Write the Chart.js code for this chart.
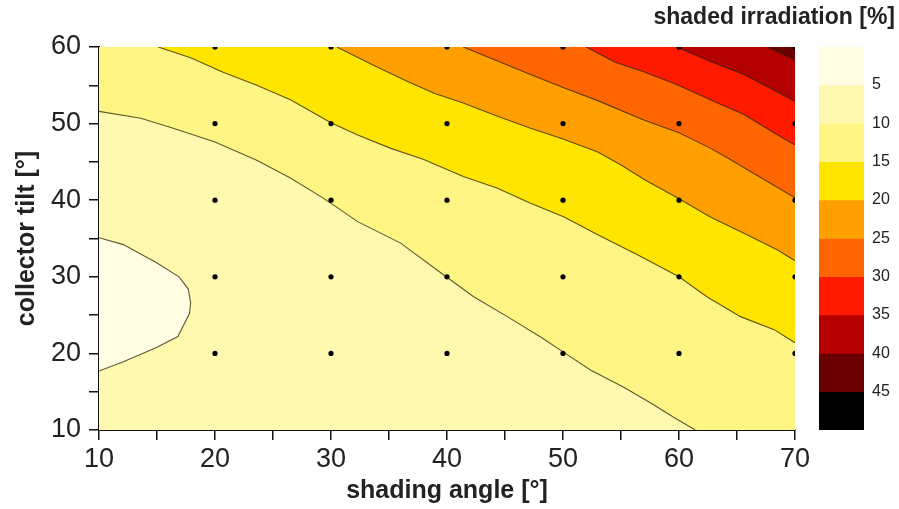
<!DOCTYPE html>
<html>
<head>
<meta charset="utf-8">
<script src="https://cdn.jsdelivr.net/npm/chart.js@4.4.1/dist/chart.umd.min.js"></script>
<style>
  body { margin: 0; background: #fff; }
  #wrap { position: relative; width: 899px; height: 509px; }
  #plot { position: absolute; left: 0; top: 0; }
  #scaleBar { position: absolute; left: 640px; top: 0; }
</style>
</head>
<body>
<div id="wrap">
  <canvas id="plot" width="899" height="509"></canvas>
  <canvas id="scaleBar" width="259" height="509"></canvas>
</div>
<script>
// contour levels of shaded irradiation [%] and their fill colours
const levels = [0, 5, 10, 15, 20, 25, 30, 35, 40, 45, 50];
const bandColors = ['#fffde2', '#fff9b0', '#fff585', '#ffe500', '#ffa000',
                    '#ff6600', '#ff1a00', '#b40000', '#6a0000', '#000000'];

// contour lines, [shading angle, collector tilt]
const contour5 = [[10, 35.1], [12.1, 34.2], [15.0, 31.8], [16.9, 30.0], [17.7, 28.4],
  [17.9, 26.6], [17.8, 25.2], [16.8, 22.2], [15.0, 20.8], [12.1, 18.9], [10, 17.7]];
const contour10 = [[10, 51.6], [13.6, 50.7], [16.4, 49.4], [20.0, 47.6], [23.6, 45.2],
  [26.5, 42.9], [29.3, 40.3], [32.3, 37.2], [36.0, 34.4], [39.4, 30.6], [42.3, 27.4],
  [45.2, 24.8], [48.1, 22.1], [50.1, 20.1], [52.4, 17.8], [55.2, 15.6], [57.6, 13.5],
  [59.5, 11.7], [61.4, 10]];
const contour15 = [[15.1, 60], [17.9, 58.6], [20.7, 56.7], [23.6, 55.0], [26.5, 53.1],
  [30.0, 50.1], [32.3, 48.5], [35.1, 46.8], [38.0, 45.3], [41.4, 43.1], [44.3, 41.6],
  [47.2, 39.6], [50.1, 37.8], [53.0, 35.5], [56.5, 32.8], [60.0, 30.0], [62.4, 27.4],
  [65.3, 24.8], [68.2, 23.1], [70, 21.4]];
const contour20 = [[30.5, 60], [33.7, 57.6], [36.6, 55.5], [39.0, 53.9], [41.4, 52.7],
  [44.3, 51.0], [47.2, 49.4], [50.0, 48.0], [53.0, 46.3], [55.0, 44.6], [57.0, 42.7],
  [60.0, 40.2], [62.7, 37.8], [65.6, 35.7], [68.5, 33.5], [70, 32.1]];
const contour25 = [[41.4, 60], [44.3, 58.2], [47.2, 56.4], [50.0, 54.7], [53.0, 53.0],
  [56.9, 50.5], [60.0, 48.8], [62.7, 46.8], [64.2, 45.5], [67.0, 43.0], [70, 40.3]];
const contour30 = [[52.0, 60], [54.5, 58.0], [56.9, 56.8], [59.8, 55.1], [62.7, 53.1],
  [65.6, 51.2], [68.4, 48.6], [70, 47.2]];
const contour35 = [[59.8, 60], [62.7, 58.1], [65.6, 56.4], [68.4, 54.2], [70, 52.9]];
const contour40 = [[67.6, 60], [68.8, 59.2], [70, 58.3]];

// measured grid points
const gridX = [20, 30, 40, 50, 60, 70];
const gridY = [20, 30, 40, 50, 60];

const xRange = [10, 70];
const yRange = [10, 60];

const FONT = "'Liberation Sans', Arial, sans-serif";
Chart.defaults.font.family = FONT;

const contours = [contour5, contour10, contour15, contour20, contour25, contour30, contour35, contour40];
const toXY = p => ({ x: p[0], y: p[1] });

// position of a border point along the frame, going down the left edge,
// right along the bottom, up the right edge and back along the top
const W = xRange[1] - xRange[0], H = yRange[1] - yRange[0];
function perim([x, y]) {
  if (x <= xRange[0]) return yRange[1] - y;
  if (y <= yRange[0]) return H + (x - xRange[0]);
  if (x >= xRange[1]) return H + W + (y - yRange[0]);
  return 2 * H + W + (xRange[1] - x);
}
const corners = [[xRange[0], yRange[0]], [xRange[1], yRange[0]], [xRange[1], yRange[1]], [xRange[0], yRange[1]]];
const cornerT = [H, H + W, 2 * H + W, 2 * H + 2 * W];

// region above a contour line = the line closed along the frame
function closeRegion(line) {
  const tEnd = perim(line[line.length - 1]);
  let tStart = perim(line[0]);
  if (tStart <= tEnd) tStart += 2 * (W + H);
  const pts = line.slice();
  for (let lap = 0; lap < 2; lap++) {
    cornerT.forEach((t, i) => {
      const tt = t + lap * 2 * (W + H);
      if (tt > tEnd && tt < tStart) pts.push(corners[i]);
    });
  }
  return pts;
}

const datasets = [];
datasets.push({
  data: corners.map(toXY), fill: 'shape', backgroundColor: bandColors[0],
  borderWidth: 0, pointRadius: 0, order: 100
});
contours.forEach((c, i) => {
  datasets.push({
    data: closeRegion(c).map(toXY), fill: 'shape', backgroundColor: bandColors[i + 1],
    borderWidth: 0, pointRadius: 0, order: 99 - i
  });
});
contours.forEach(c => {
  datasets.push({
    data: c.map(toXY), fill: false, borderColor: 'rgba(45,35,0,0.75)',
    borderWidth: 1.1, pointRadius: 0, tension: 0, order: 10
  });
});
const dots = [];
gridY.forEach(y => gridX.forEach(x => dots.push({ x, y })));
datasets.push({
  data: dots, showLine: false, pointRadius: 2.6, pointBackgroundColor: '#000',
  pointBorderWidth: 0, order: 0
});

const tickCb = v => (v % 10 === 0 ? v : '');

new Chart(document.getElementById('plot'), {
  type: 'line',
  data: { datasets },
  options: {
    responsive: false,
    animation: false,
    events: [],
    layout: { padding: { left: 0, right: 104, top: 47, bottom: 0 } },
    plugins: { legend: { display: false }, tooltip: { enabled: false } },
    scales: {
      x: {
        type: 'linear', min: xRange[0], max: xRange[1],
        ticks: { stepSize: 5, autoSkip: false, maxRotation: 0, color: '#222',
                 font: { size: 27 }, padding: 3, callback: tickCb },
        grid: { drawOnChartArea: false, tickLength: 10, color: '#111', lineWidth: 1.5 },
        border: { color: '#111', width: 2 },
        title: { display: true, text: 'shading angle [°]', color: '#222',
                 font: { size: 25, weight: 'bold' }, padding: { top: 0, bottom: 3 } },
        afterFit: s => { s.height = 79; }
      },
      y: {
        type: 'linear', min: yRange[0], max: yRange[1],
        ticks: { stepSize: 5, autoSkip: false, color: '#222',
                 font: { size: 27 }, padding: 8, callback: tickCb },
        grid: { drawOnChartArea: false, tickLength: 10, color: '#111', lineWidth: 1.5 },
        border: { color: '#111', width: 2 },
        title: { display: true, text: 'collector tilt [°]', color: '#222',
                 font: { size: 25, weight: 'bold' }, padding: { top: 12, bottom: 0 } },
        afterFit: s => { s.width = 99; }
      }
    }
  }
});

// colour scale
new Chart(document.getElementById('scaleBar'), {
  type: 'bar',
  data: {
    labels: [''],
    datasets: bandColors.map((c, i) => ({
      data: [levels[i + 1] - levels[i]], backgroundColor: c, borderWidth: 0,
      barPercentage: 1, categoryPercentage: 1
    }))
  },
  options: {
    responsive: false,
    animation: false,
    events: [],
    layout: { padding: { left: 0, right: 4, top: 0, bottom: 79 } },
    plugins: {
      legend: { display: false },
      tooltip: { enabled: false },
      title: { display: true, text: 'shaded irradiation [%]', align: 'end', color: '#222',
               font: { size: 23, weight: 'bold' }, padding: { top: 4, bottom: 15 } }
    },
    scales: {
      x: { stacked: true, display: false },
      y: {
        stacked: true, position: 'right', reverse: true, min: levels[0], max: levels[levels.length - 1],
        ticks: { stepSize: 5, autoSkip: false, color: '#222', font: { size: 16 }, padding: 8,
                 callback: v => (v > levels[0] && v < levels[levels.length - 1] ? v : '') },
        grid: { display: false, drawTicks: false },
        border: { display: false },
        afterFit: s => { s.width = 31; }
      },
      pad: {
        type: 'linear', position: 'left',
        ticks: { display: false },
        grid: { display: false, drawTicks: false },
        border: { display: false },
        afterFit: s => { s.width = 179; }
      }
    }
  }
});
</script>
</body>
</html>
